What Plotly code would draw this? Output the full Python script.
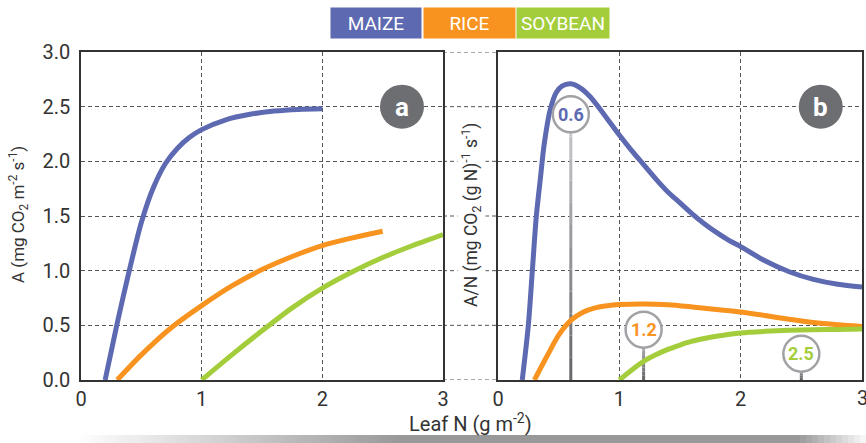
import plotly.graph_objects as go

# crop colours
BLUE = "#5d69b1"
ORANGE = "#f7931e"
GREEN = "#a3cd3b"
GRID = "#555555"
FONT = "Roboto"

# panel a: photosynthesis A (mg CO2 m-2 s-1) vs leaf N (g m-2)
maize_n = [0.2, 0.3, 0.4, 0.5, 0.6, 0.7, 0.8, 0.9, 1.0, 1.2, 1.4, 1.6, 1.8, 2.0]
maize_a = [0.0, 0.52, 1.0, 1.44, 1.76, 1.98, 2.12, 2.22, 2.29, 2.38, 2.43, 2.46, 2.475, 2.48]
rice_n = [0.3, 0.5, 0.75, 1.0, 1.25, 1.5, 1.75, 2.0, 2.25, 2.5]
rice_a = [0.0, 0.23, 0.48, 0.68, 0.86, 1.01, 1.13, 1.23, 1.30, 1.36]
soy_n = [1.0, 1.25, 1.5, 1.75, 2.0, 2.25, 2.5, 2.75, 3.0]
soy_a = [0.0, 0.23, 0.45, 0.66, 0.84, 0.99, 1.12, 1.23, 1.33]

# panel b: A/N (mg CO2 (g N)-1 s-1) vs leaf N
maize_bn = [0.2, 0.25, 0.283, 0.316, 0.35, 0.38, 0.43, 0.48, 0.53, 0.6, 0.68, 0.76, 0.88,
            1.0, 1.1, 1.2, 1.3, 1.4, 1.5, 1.6, 1.7, 1.8, 1.9, 2.0, 2.2, 2.4, 2.6, 2.8, 3.0]
maize_b = [0.0, 0.5, 1.0, 1.5, 1.85, 2.15, 2.47, 2.63, 2.69, 2.71, 2.67, 2.59, 2.42,
           2.24, 2.10, 1.97, 1.84, 1.72, 1.62, 1.52, 1.43, 1.35, 1.28, 1.22, 1.09, 0.99,
           0.92, 0.875, 0.85]
rice_bn = [0.3, 0.4, 0.5, 0.6, 0.7, 0.8, 0.9, 1.0, 1.2, 1.4, 1.6, 1.8, 2.0, 2.2, 2.4, 2.6,
           2.8, 3.0]
rice_b = [0.0, 0.21, 0.41, 0.545, 0.62, 0.66, 0.68, 0.69, 0.695, 0.688, 0.668, 0.645, 0.622,
          0.59, 0.555, 0.525, 0.505, 0.49]
soy_bn = [1.0, 1.1, 1.2, 1.3, 1.4, 1.5, 1.6, 1.7, 1.8, 2.0, 2.2, 2.4, 2.6, 2.8, 3.0]
soy_b = [0.0, 0.09, 0.17, 0.23, 0.28, 0.32, 0.355, 0.38, 0.40, 0.43, 0.445, 0.455, 0.46,
         0.463, 0.466]

# optimum leaf N markers in panel b: (N, label height, colour)
opt_n = [0.6, 1.2, 2.5]
opt_y = [2.43, 0.46, 0.24]
opt_col = [BLUE, ORANGE, GREEN]

crops = ["MAIZE", "RICE", "SOYBEAN"]
crop_col = [BLUE, ORANGE, GREEN]

x_ticks = [0, 1, 2, 3]
y_ticks = [0, 0.5, 1, 1.5, 2, 2.5, 3]

fig = go.Figure()

for n, a, c in [(maize_n, maize_a, BLUE), (rice_n, rice_a, ORANGE), (soy_n, soy_a, GREEN)]:
    fig.add_trace(go.Scatter(x=n, y=a, mode="lines", xaxis="x", yaxis="y", hoverinfo="skip",
                             line=dict(color=c, width=5, shape="spline", smoothing=0.8)))
for n, a, c in [(maize_bn, maize_b, BLUE), (rice_bn, rice_b, ORANGE), (soy_bn, soy_b, GREEN)]:
    fig.add_trace(go.Scatter(x=n, y=a, mode="lines", xaxis="x2", yaxis="y2", hoverinfo="skip",
                             line=dict(color=c, width=5, shape="spline", smoothing=0.8)))

W, H = 866, 443
xd1 = [81 / W, 443 / W]
xd2 = [498 / W, 862 / W]
yd = [(H - 380) / H, (H - 52) / H]

axis_common = dict(range=[0, 3], showline=True, mirror=True, linecolor="#333333", linewidth=1.5,
                   showgrid=True, gridcolor=GRID, griddash="4px,3px", gridwidth=1,
                   zeroline=False, ticks="", automargin=False,
                   tickfont=dict(size=20, color="#333333", family=FONT))

fig.update_layout(
    width=W, height=H,
    margin=dict(l=0, r=0, t=0, b=0),
    plot_bgcolor="white", paper_bgcolor="white",
    showlegend=False,
    font=dict(family=FONT, color="#333333"),
    xaxis=dict(axis_common, domain=xd1, anchor="y", tickvals=x_ticks),
    yaxis=dict(axis_common, domain=yd, anchor="x", tickvals=y_ticks,
               tickformat=".1f", ticklabelstandoff=5),
    # last label of panel b sits on the page edge; it is added as an annotation below
    xaxis2=dict(axis_common, domain=xd2, anchor="y2", tickvals=x_ticks,
                ticktext=[str(v) for v in x_ticks[:-1]] + [" "]),
    yaxis2=dict(axis_common, domain=yd, anchor="x2", tickvals=y_ticks,
                showticklabels=False),
)

shapes = []
# grid lines running across the gap between the panels
for gy in y_ticks:
    shapes.append(dict(type="line", xref="paper", yref="y", x0=xd1[1], x1=xd2[0], y0=gy, y1=gy,
                       line=dict(color=GRID, width=1, dash="4px,3px"), layer="below"))

# vertical markers (dark at the bottom, light at the top) and circles for optimum N
nseg = 12
for n, y, c in zip(opt_n, opt_y, opt_col):
    for k in range(nseg):
        t = k / (nseg - 1)
        g = int(105 + t * (200 - 105))
        shapes.append(dict(type="line", xref="x2", yref="y2", x0=n, x1=n,
                           y0=y * k / nseg, y1=y * (k + 1) / nseg,
                           line=dict(color=f"rgb({g},{g},{g + 4})", width=3), layer="between"))
    shapes.append(dict(type="circle", xref="x2", yref="y2", xsizemode="pixel", ysizemode="pixel",
                       xanchor=n, yanchor=y, x0=-18, x1=18, y0=-18, y1=18,
                       fillcolor="white", line=dict(color="#a2a2a6", width=2.5), layer="above"))

# panel letter discs
for xr, yr in [("x", "y"), ("x2", "y2")]:
    shapes.append(dict(type="circle", xref=xr, yref=yr, xsizemode="pixel", ysizemode="pixel",
                       xanchor=2.66, yanchor=2.5, x0=-22, x1=22, y0=-22, y1=22,
                       fillcolor="#6d6e71", line=dict(width=0), layer="above"))

# faded grey band along the bottom
step = 6
for px in range(74, W, step):
    if px < 400:
        t = (px - 74) / (400 - 74)
    elif px < 795:
        t = 1.0
    else:
        t = max(0.0, (W - px) / (W - 795))
    g = int(255 - t * (255 - 152))
    shapes.append(dict(type="rect", xref="paper", yref="paper", x0=px / W, x1=(px + step + 0.5) / W,
                       y0=0, y1=8 / H, fillcolor=f"rgb({g},{g},{g})", line=dict(width=0),
                       layer="below"))

annotations = []
for n, y, c in zip(opt_n, opt_y, opt_col):
    annotations.append(dict(x=n, y=y, xref="x2", yref="y2", showarrow=False,
                            text=f"<b>{n}</b>", font=dict(size=18, color=c, family=FONT)))
for xr, yr, lab in [("x", "y", "a"), ("x2", "y2", "b")]:
    annotations.append(dict(x=2.66, y=2.5, xref=xr, yref=yr, showarrow=False,
                            text=f"<b>{lab}</b>", font=dict(size=26, color="white", family=FONT)))

# crop key boxes (left edge, right edge in pixels)
box_l = [332, 425, 518]
box_r = [420, 514, 608]
for name, c, bl, br in zip(crops, crop_col, box_l, box_r):
    annotations.append(dict(x=(bl + br) / 2 / W, y=1 - 23 / H, xref="paper", yref="paper",
                            xanchor="center", yanchor="middle",
                            showarrow=False, text=name, bgcolor=c, width=br - bl, height=28,
                            borderpad=1, font=dict(size=19, color="white", family=FONT)))

# the clipped "3" at the right end of panel b
annotations.append(dict(x=x_ticks[-1], y=1 - 398 / H, xref="x2", yref="paper",
                        xanchor="center", yanchor="middle", showarrow=False,
                        text=str(x_ticks[-1]), font=dict(size=20, family=FONT, color="#333333")))

annotations.append(dict(x=18 / W, y=1 - 215 / H, xref="paper", yref="paper",
                        xanchor="center", yanchor="middle", showarrow=False, textangle=-90,
                        text="A (mg CO<sub>2</sub> m<sup>-2</sup> s<sup>-1</sup>)",
                        font=dict(size=17, family=FONT, color="#333333")))
annotations.append(dict(x=471 / W, y=1 - 215 / H, xref="paper", yref="paper",
                        xanchor="center", yanchor="middle",
                        showarrow=False, textangle=-90, bgcolor="white",
                        text="A/N (mg CO<sub>2</sub> (g N)<sup>-1</sup> s<sup>-1</sup>)",
                        font=dict(size=17.5, family=FONT, color="#333333")))
annotations.append(dict(x=470 / W, y=1 - 423 / H, xref="paper", yref="paper",
                        xanchor="center", yanchor="middle",
                        showarrow=False, text="Leaf N (g m<sup>-2</sup>)",
                        font=dict(size=20, family=FONT, color="#333333")))

fig.update_layout(shapes=shapes, annotations=annotations)

# drop the page's default body margin so the figure sits at the window's corner
fig.write_html("out.html", config={"displayModeBar": False},
               post_script="document.body.style.margin='0';")
